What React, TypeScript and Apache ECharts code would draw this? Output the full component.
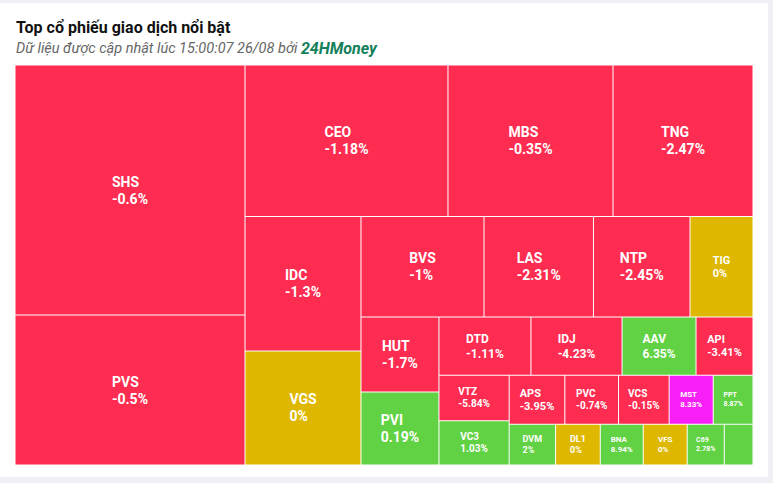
import React, { useEffect, useRef } from "react";
import * as echarts from "echarts";

// ---- data ----
const tickers = [
  "SHS", "PVS", "CEO", "MBS", "TNG", "IDC", "VGS", "BVS", "LAS", "NTP",
  "TIG", "HUT", "PVI", "DTD", "IDJ", "AAV", "API", "VTZ", "VC3", "APS",
  "PVC", "VCS", "MST", "PPT", "DVM", "DL1", "BNA", "VFS", "C69", "",
];
const tradeValue = [
  575.0, 345.0, 307.5, 250.0, 212.1, 156.0, 132.2, 123.6, 110.0, 97.0,
  63.3, 58.5, 56.9, 53.6, 53.1, 43.1, 33.2, 31.9, 31.1, 27.3,
  26.3, 24.8, 21.6, 19.5, 18.9, 18.2, 17.5, 17.9, 15.1, 11.7,
];
const changePct = [
  -0.6, -0.5, -1.18, -0.35, -2.47, -1.3, 0, -1, -2.31, -2.45,
  0, -1.7, 0.19, -1.11, -4.23, 6.35, -3.41, -5.84, 1.03, -3.95,
  -0.74, -0.15, 8.33, 8.87, 2, 0, 8.94, 0, 2.78, 1.5,
];
const ceilingTickers = ["MST"];

const titleText = "Top cổ phiếu giao dịch nổi bật";
const subtitleText = "Dữ liệu được cập nhật lúc 15:00:07 26/08 bởi ";
const brandText = "24HMoney";

// ---- styles ----
const RED = "#FE2C50";
const GREEN = "#61D244";
const YELLOW = "#DEB800";
const MAGENTA = "#F81EF6";
const BORDER = 0.5;
const FONT = "Roboto";
const labelSizeByTicker: Record<string, number> = {
  TIG: 11, DTD: 12, IDJ: 12, AAV: 12, API: 11, VTZ: 10, VC3: 10, APS: 11,
  PVC: 10, VCS: 10, MST: 8, PPT: 7, DVM: 9, DL1: 9, BNA: 8, VFS: 8, C69: 7,
};
const fontSizeOf = (t: string) => labelSizeByTicker[t] ?? 14;
const lineHeightOf = (fs: number) => Math.round(fs * 1.22);
const pctText = (i: number) => `${changePct[i]}%`;

function colorOf(i: number) {
  if (ceilingTickers.includes(tickers[i])) return MAGENTA;
  const p = changePct[i];
  if (p > 0) return GREEN;
  if (p < 0) return RED;
  return YELLOW;
}

type Pads = Record<string, [number, number]>;

function buildOption(pads: Pads) {
  const total = tradeValue.reduce((a, b) => a + b, 0);
  const TINY = total * 1e-12;
  let sepN = 0;
  let grpN = 0;
  const sep = () => ({
    name: "",
    id: "sep" + sepN++,
    value: TINY,
    itemStyle: { color: "rgba(0,0,0,0)", borderColor: "rgba(0,0,0,0)", borderWidth: 0 },
    label: { show: false },
  });
  const group = (children: any[]) => ({
    name: "",
    id: "grp" + grpN++,
    children,
    itemStyle: { borderWidth: 0, gapWidth: 0, borderColor: "#fff" },
  });
  const leaf = (i: number) => {
    const name = tickers[i];
    const fs = fontSizeOf(name);
    const lh = lineHeightOf(fs);
    const pad = pads[name];
    const txt = { fontFamily: FONT, fontWeight: "bold", fontSize: fs, lineHeight: lh, color: "#fff" };
    return {
      name,
      id: "cell" + i,
      value: tradeValue[i],
      itemStyle: { color: colorOf(i), borderColor: "#fff", borderWidth: BORDER },
      label: {
        show: name !== "",
        position: "insideTopLeft",
        distance: 0,
        padding: pad ? [pad[1], 0, 0, pad[0]] : 0,
        formatter: `{n|${name}}\n{p|${pctText(i)}}`,
        rich: { n: txt, p: txt },
      },
    };
  };
  const L = (...idx: number[]) => idx.map(leaf);
  // each item in its own slice, one after the other
  const seq = (items: any[]): any =>
    items.length === 1 ? items[0] : group([items[0], sep(), seq(items.slice(1))]);

  const strip1 = seq(L(19, 20, 21, 22, 23));
  const strip2 = seq(L(24, 25, 26, 27, 28, 29));
  const I = group([strip1, strip2]);
  const H = group([...L(17, 18), sep(), I]);
  const F = group([seq(L(13, 14, 15, 16)), H]);
  const D2 = group([...L(11, 12), sep(), F]);
  const D = group([seq(L(7, 8, 9, 10)), D2]);
  const B2 = group([...L(5, 6), sep(), D]);
  const B = group([seq(L(2, 3, 4)), B2]);
  const data = [...L(0, 1), sep(), B];

  return {
    animation: false,
    backgroundColor: "#eef0f3",
    graphic: [
      {
        type: "rect",
        z: 0,
        silent: true,
        shape: { x: 0, y: 3, width: 768, height: 474 },
        style: { fill: "#ffffff" },
      },
    ],
    title: {
      left: 11,
      top: 14,
      text: titleText,
      textStyle: { fontFamily: FONT, fontSize: 16, fontWeight: "bold", color: "#111" },
      subtext: `{a|${subtitleText}}{b|${brandText}}`,
      itemGap: 5,
      subtextStyle: {
        rich: {
          a: { fontFamily: FONT, fontStyle: "italic", fontSize: 14.5, color: "#666" },
          b: { fontFamily: FONT, fontStyle: "italic", fontWeight: "bold", fontSize: 16, color: "#13805a" },
        },
      },
    },
    series: [
      {
        type: "treemap",
        left: 15,
        top: 65,
        width: 738,
        height: 400,
        squareRatio: 100,
        sort: false,
        roam: false,
        nodeClick: false,
        visibleMin: 0,
        breadcrumb: { show: false },
        itemStyle: { borderWidth: 0, gapWidth: 0, borderColor: "#fff" },
        upperLabel: { show: false },
        label: { show: true, position: "insideTopLeft", color: "#fff", overflow: "none" },
        data,
      },
    ],
  };
}

function readCellSizes(chart: any): Record<string, { w: number; h: number }> {
  const out: Record<string, { w: number; h: number }> = {};
  try {
    const sm = chart.getModel().getSeriesByIndex(0);
    const tree = sm.getData().tree;
    tree.root.eachNode((node: any) => {
      if (node.children && node.children.length) return;
      const lay = node.getLayout();
      if (lay && node.name) out[node.name] = { w: lay.width, h: lay.height };
    });
  } catch (e) {
    // ignore
  }
  return out;
}

function computePads(sizes: Record<string, { w: number; h: number }>): Pads {
  const pads: Pads = {};
  const ctx = document.createElement("canvas").getContext("2d");
  if (!ctx) return pads;
  tickers.forEach((t, i) => {
    const s = sizes[t];
    if (!t || !s) return;
    const fs = fontSizeOf(t);
    const lh = lineHeightOf(fs);
    ctx.font = `bold ${fs}px ${FONT}`;
    const bw = Math.max(ctx.measureText(t).width, ctx.measureText(pctText(i)).width);
    const cw = s.w - 2 * BORDER;
    const ch = s.h - 2 * BORDER;
    pads[t] = [Math.max(0, (cw - bw) / 2), Math.max(0, (ch - 2 * lh) / 2)];
  });
  return pads;
}

export default function App() {
  const ref = useRef<HTMLDivElement>(null);
  useEffect(() => {
    const el = ref.current;
    if (!el) return;
    const chart = echarts.init(el, null, { renderer: "svg" });
    chart.setOption(buildOption({}) as any, true);
    const pads = computePads(readCellSizes(chart));
    chart.setOption(buildOption(pads) as any, true);
    return () => chart.dispose();
  }, []);
  return (
    <div style={{ position: "fixed", left: 0, top: 0, width: 773, height: 483 }}>
      <div ref={ref} style={{ width: 773, height: 483 }} />
    </div>
  );
}
